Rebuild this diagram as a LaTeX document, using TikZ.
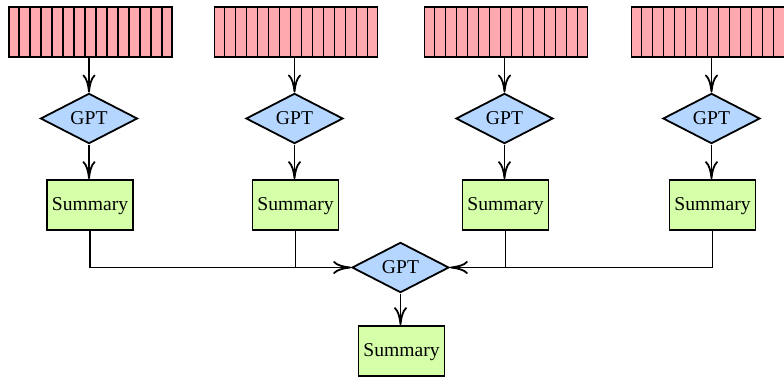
\documentclass[tikz,border=0pt]{standalone}
\usepackage{fontspec}
\setmainfont{Liberation Serif}
\usetikzlibrary{shapes.geometric,arrows.meta,calc}
\definecolor{tokpink}{RGB}{255,168,174}
\definecolor{gptblue}{RGB}{180,214,255}
\definecolor{sumgreen}{RGB}{214,255,170}
\tikzset{
  tokens/.style={draw, fill=tokpink, line width=0.9pt, minimum width=81.5pt, minimum height=25pt, inner sep=0pt},
  gpt/.style={draw, fill=gptblue, diamond, line width=0.9pt, minimum width=48.5pt, minimum height=24.5pt, inner sep=0pt, font=\fontsize{9.8}{12}\selectfont},
  summ/.style={draw, fill=sumgreen, line width=0.9pt, minimum width=43pt, minimum height=25pt, inner sep=0pt, text depth=0.6pt, font=\fontsize{9.8}{12}\selectfont},
  conn/.style={line width=0.9pt, -{Computer Modern Rightarrow[length=9pt,width=6.5pt]}},
  plain/.style={line width=0.9pt},
}
\begin{document}
\begin{tikzpicture}[x=0.5pt,y=-0.5pt]
\useasboundingbox (0,0) rectangle (784,377);
\foreach \i/\cx in {1/89, 2/294.5, 3/504.5, 4/711.5}{
  \node[tokens] (t\i) at (\cx+1.5,32) {};
  \foreach \k in {1,...,14}{
    \draw[line width=0.9pt] ($(t\i.south west)!\k/15!(t\i.south east)$) -- ($(t\i.north west)!\k/15!(t\i.north east)$);
  }
  \node[gpt] (g\i) at (\cx,118.5) {GPT};
  \node[summ] (s\i) at (\cx+1,205) {Summary};
  \draw[conn] (t\i.south -| g\i.north) -- (g\i.north);
  \draw[conn] (g\i.south) -- (s\i.north -| g\i.south);
}
\node[gpt] (G) at (400.5,267.5) {GPT};
\node[summ] (S) at (401.5,351) {Summary};
\draw[conn] (s1.south) |- (G.west);
\draw[plain] (s2.south) -- (s2.south |- G.west);
\draw[conn] (s4.south) |- (G.east);
\draw[plain] (s3.south) -- (s3.south |- G.east);
\draw[conn] (G.south) -- (S.north -| G.south);
\end{tikzpicture}
\end{document}
